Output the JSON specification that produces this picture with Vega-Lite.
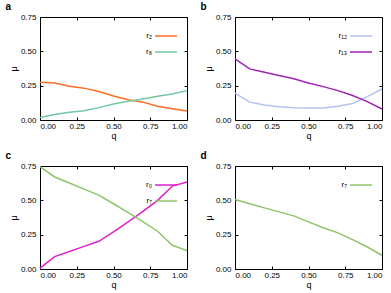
{
  "$schema": "https://vega.github.io/schema/vega-lite/v6.json",
  "padding": {"left": 4, "top": 1, "right": 8, "bottom": 0},
  "background": "white",
  "datasets": {
    "d": [
      {"panel":"a","s":"r₂","q":0.0,"mu":0.275},{"panel":"a","s":"r₂","q":0.1,"mu":0.27},{"panel":"a","s":"r₂","q":0.2,"mu":0.245},{"panel":"a","s":"r₂","q":0.3,"mu":0.232},{"panel":"a","s":"r₂","q":0.4,"mu":0.208},{"panel":"a","s":"r₂","q":0.5,"mu":0.175},{"panel":"a","s":"r₂","q":0.6,"mu":0.148},{"panel":"a","s":"r₂","q":0.7,"mu":0.13},{"panel":"a","s":"r₂","q":0.8,"mu":0.1},{"panel":"a","s":"r₂","q":0.9,"mu":0.082},{"panel":"a","s":"r₂","q":1.0,"mu":0.065},
      {"panel":"a","s":"r₈","q":0.0,"mu":0.018},{"panel":"a","s":"r₈","q":0.1,"mu":0.04},{"panel":"a","s":"r₈","q":0.2,"mu":0.057},{"panel":"a","s":"r₈","q":0.3,"mu":0.068},{"panel":"a","s":"r₈","q":0.4,"mu":0.09},{"panel":"a","s":"r₈","q":0.5,"mu":0.117},{"panel":"a","s":"r₈","q":0.6,"mu":0.136},{"panel":"a","s":"r₈","q":0.7,"mu":0.153},{"panel":"a","s":"r₈","q":0.8,"mu":0.173},{"panel":"a","s":"r₈","q":0.9,"mu":0.19},{"panel":"a","s":"r₈","q":1.0,"mu":0.214},
      {"panel":"b","s":"r₁₂","q":0.0,"mu":0.195},{"panel":"b","s":"r₁₂","q":0.1,"mu":0.13},{"panel":"b","s":"r₁₂","q":0.2,"mu":0.11},{"panel":"b","s":"r₁₂","q":0.3,"mu":0.097},{"panel":"b","s":"r₁₂","q":0.4,"mu":0.09},{"panel":"b","s":"r₁₂","q":0.5,"mu":0.088},{"panel":"b","s":"r₁₂","q":0.6,"mu":0.088},{"panel":"b","s":"r₁₂","q":0.7,"mu":0.1},{"panel":"b","s":"r₁₂","q":0.8,"mu":0.12},{"panel":"b","s":"r₁₂","q":0.9,"mu":0.17},{"panel":"b","s":"r₁₂","q":1.0,"mu":0.226},
      {"panel":"b","s":"r₁₃","q":0.0,"mu":0.445},{"panel":"b","s":"r₁₃","q":0.1,"mu":0.372},{"panel":"b","s":"r₁₃","q":0.2,"mu":0.348},{"panel":"b","s":"r₁₃","q":0.3,"mu":0.324},{"panel":"b","s":"r₁₃","q":0.4,"mu":0.3},{"panel":"b","s":"r₁₃","q":0.5,"mu":0.27},{"panel":"b","s":"r₁₃","q":0.6,"mu":0.243},{"panel":"b","s":"r₁₃","q":0.7,"mu":0.214},{"panel":"b","s":"r₁₃","q":0.8,"mu":0.178},{"panel":"b","s":"r₁₃","q":0.9,"mu":0.134},{"panel":"b","s":"r₁₃","q":1.0,"mu":0.08},
      {"panel":"c","s":"r₀","q":0.0,"mu":0.007},{"panel":"c","s":"r₀","q":0.1,"mu":0.09},{"panel":"c","s":"r₀","q":0.2,"mu":0.127},{"panel":"c","s":"r₀","q":0.3,"mu":0.165},{"panel":"c","s":"r₀","q":0.4,"mu":0.202},{"panel":"c","s":"r₀","q":0.5,"mu":0.27},{"panel":"c","s":"r₀","q":0.6,"mu":0.343},{"panel":"c","s":"r₀","q":0.7,"mu":0.42},{"panel":"c","s":"r₀","q":0.8,"mu":0.5},{"panel":"c","s":"r₀","q":0.9,"mu":0.604},{"panel":"c","s":"r₀","q":1.0,"mu":0.633},
      {"panel":"c","s":"r₇","q":0.0,"mu":0.745},{"panel":"c","s":"r₇","q":0.1,"mu":0.67},{"panel":"c","s":"r₇","q":0.2,"mu":0.626},{"panel":"c","s":"r₇","q":0.3,"mu":0.582},{"panel":"c","s":"r₇","q":0.4,"mu":0.538},{"panel":"c","s":"r₇","q":0.5,"mu":0.475},{"panel":"c","s":"r₇","q":0.6,"mu":0.41},{"panel":"c","s":"r₇","q":0.7,"mu":0.345},{"panel":"c","s":"r₇","q":0.8,"mu":0.275},{"panel":"c","s":"r₇","q":0.9,"mu":0.173},{"panel":"c","s":"r₇","q":1.0,"mu":0.134},
      {"panel":"d","s":"r₇","q":0.0,"mu":0.506},{"panel":"d","s":"r₇","q":0.1,"mu":0.475},{"panel":"d","s":"r₇","q":0.2,"mu":0.445},{"panel":"d","s":"r₇","q":0.3,"mu":0.416},{"panel":"d","s":"r₇","q":0.4,"mu":0.387},{"panel":"d","s":"r₇","q":0.5,"mu":0.343},{"panel":"d","s":"r₇","q":0.6,"mu":0.3},{"panel":"d","s":"r₇","q":0.7,"mu":0.263},{"panel":"d","s":"r₇","q":0.8,"mu":0.214},{"panel":"d","s":"r₇","q":0.9,"mu":0.16},{"panel":"d","s":"r₇","q":1.0,"mu":0.1}
    ]
  },
  "data": {"name": "d"},
  "columns": 2,
  "spacing": {"column": 48, "row": 46},
  "bounds": "flush",
  "resolve": {"scale": {"color": "independent"}, "legend": {"color": "independent"}},
  "config": {
    "font": "Liberation Sans",
    "view": {"stroke": "black", "strokeWidth": 1},
    "axis": {
      "domain": false, "grid": false, "tickSize": -3, "tickColor": "black", "tickWidth": 1,
      "labelFontSize": 8, "labelColor": "black", "labelFont": "Liberation Sans",
      "titleFontSize": 9, "titleFontWeight": "normal", "titleColor": "black", "titleFont": "Liberation Sans"
    },
    "axisX": {"labelPadding": 5, "titlePadding": 1},
    "axisY": {"labelPadding": 7, "titlePadding": 2},
    "legend": {
      "orient": "top-right", "offset": 7, "padding": 0, "symbolType": "stroke", "symbolSize": 484,
      "symbolStrokeWidth": 1.5, "labelFontSize": 8, "labelFont": "Liberation Sans", "labelColor": "black",
      "rowPadding": 0, "labelAlign": "right", "labelOffset": -26, "title": null
    },
    "title": {"anchor": "start", "frame": "bounds", "fontSize": 10, "fontWeight": "bold", "font": "Liberation Sans", "color": "black", "offset": 1, "dx": -4}
  },
  "concat": [
    {
      "width": 147, "height": 103,
      "title": {"text": "a"},
      "transform": [{"filter": "datum.panel == 'a'"}],
      "layer": [
        {"mark": {"type": "line", "strokeWidth": 1.5},
         "encoding": {
           "x": {"field": "q", "type": "quantitative", "scale": {"domain": [0, 1]}, "axis": {"values": [0, 0.25, 0.5, 0.75, 1], "format": ".2f", "title": "q"}},
           "y": {"field": "mu", "type": "quantitative", "scale": {"domain": [0, 0.75]}, "axis": {"values": [0, 0.25, 0.5, 0.75], "format": ".2f", "title": "μ"}},
           "color": {"field": "s", "type": "nominal", "sort": null, "scale": {"domain": ["r₂", "r₈"], "range": ["#fc6e24", "#72c8a2"]}}
         }},
        {"mark": {"type": "line", "opacity": 0},
         "encoding": {
           "x": {"field": "q", "type": "quantitative", "scale": {"domain": [0, 1]}, "axis": {"orient": "top", "values": [0, 0.25, 0.5, 0.75, 1], "labels": false, "title": null}},
           "y": {"field": "mu", "type": "quantitative", "scale": {"domain": [0, 0.75]}, "axis": {"orient": "right", "values": [0, 0.25, 0.5, 0.75], "labels": false, "title": null}}
         }}
      ],
      "resolve": {"axis": {"x": "independent", "y": "independent"}}
    },
    {
      "width": 147, "height": 103,
      "title": {"text": "b"},
      "transform": [{"filter": "datum.panel == 'b'"}],
      "layer": [
        {"mark": {"type": "line", "strokeWidth": 1.5},
         "encoding": {
           "x": {"field": "q", "type": "quantitative", "scale": {"domain": [0, 1]}, "axis": {"values": [0, 0.25, 0.5, 0.75, 1], "format": ".2f", "title": "q"}},
           "y": {"field": "mu", "type": "quantitative", "scale": {"domain": [0, 0.75]}, "axis": {"values": [0, 0.25, 0.5, 0.75], "format": ".2f", "title": "μ"}},
           "color": {"field": "s", "type": "nominal", "sort": null, "scale": {"domain": ["r₁₂", "r₁₃"], "range": ["#b0c4ef", "#a020b8"]}}
         }},
        {"mark": {"type": "line", "opacity": 0},
         "encoding": {
           "x": {"field": "q", "type": "quantitative", "scale": {"domain": [0, 1]}, "axis": {"orient": "top", "values": [0, 0.25, 0.5, 0.75, 1], "labels": false, "title": null}},
           "y": {"field": "mu", "type": "quantitative", "scale": {"domain": [0, 0.75]}, "axis": {"orient": "right", "values": [0, 0.25, 0.5, 0.75], "labels": false, "title": null}}
         }}
      ],
      "resolve": {"axis": {"x": "independent", "y": "independent"}}
    },
    {
      "width": 147, "height": 103,
      "title": {"text": "c"},
      "transform": [{"filter": "datum.panel == 'c'"}],
      "layer": [
        {"mark": {"type": "line", "strokeWidth": 1.5},
         "encoding": {
           "x": {"field": "q", "type": "quantitative", "scale": {"domain": [0, 1]}, "axis": {"values": [0, 0.25, 0.5, 0.75, 1], "format": ".2f", "title": "q"}},
           "y": {"field": "mu", "type": "quantitative", "scale": {"domain": [0, 0.75]}, "axis": {"values": [0, 0.25, 0.5, 0.75], "format": ".2f", "title": "μ"}},
           "color": {"field": "s", "type": "nominal", "sort": null, "scale": {"domain": ["r₀", "r₇"], "range": ["#e020c8", "#8cc46a"]}}
         }},
        {"mark": {"type": "line", "opacity": 0},
         "encoding": {
           "x": {"field": "q", "type": "quantitative", "scale": {"domain": [0, 1]}, "axis": {"orient": "top", "values": [0, 0.25, 0.5, 0.75, 1], "labels": false, "title": null}},
           "y": {"field": "mu", "type": "quantitative", "scale": {"domain": [0, 0.75]}, "axis": {"orient": "right", "values": [0, 0.25, 0.5, 0.75], "labels": false, "title": null}}
         }}
      ],
      "resolve": {"axis": {"x": "independent", "y": "independent"}}
    },
    {
      "width": 147, "height": 103,
      "title": {"text": "d"},
      "transform": [{"filter": "datum.panel == 'd'"}],
      "layer": [
        {"mark": {"type": "line", "strokeWidth": 1.5},
         "encoding": {
           "x": {"field": "q", "type": "quantitative", "scale": {"domain": [0, 1]}, "axis": {"values": [0, 0.25, 0.5, 0.75, 1], "format": ".2f", "title": "q"}},
           "y": {"field": "mu", "type": "quantitative", "scale": {"domain": [0, 0.75]}, "axis": {"values": [0, 0.25, 0.5, 0.75], "format": ".2f", "title": "μ"}},
           "color": {"field": "s", "type": "nominal", "sort": null, "scale": {"domain": ["r₇"], "range": ["#8cc46a"]}}
         }},
        {"mark": {"type": "line", "opacity": 0},
         "encoding": {
           "x": {"field": "q", "type": "quantitative", "scale": {"domain": [0, 1]}, "axis": {"orient": "top", "values": [0, 0.25, 0.5, 0.75, 1], "labels": false, "title": null}},
           "y": {"field": "mu", "type": "quantitative", "scale": {"domain": [0, 0.75]}, "axis": {"orient": "right", "values": [0, 0.25, 0.5, 0.75], "labels": false, "title": null}}
         }}
      ],
      "resolve": {"axis": {"x": "independent", "y": "independent"}}
    }
  ]
}
